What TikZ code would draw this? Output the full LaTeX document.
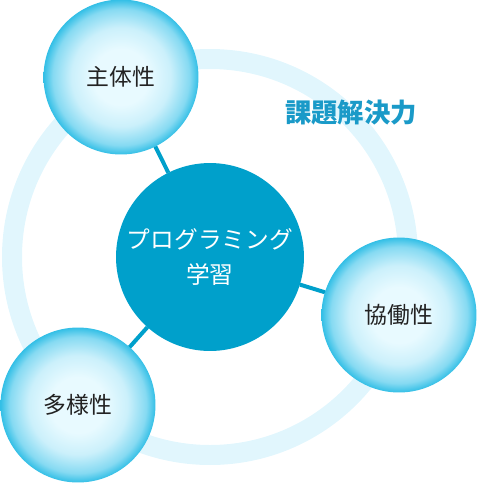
\documentclass[tikz,border=0pt]{standalone}
\usepackage{fontspec}
\usepackage{xcolor}
\usepackage{tikz}
\usetikzlibrary{calc}
\newfontfamily\jpfont{Noto Sans CJK JP}
\definecolor{LabBlue}{HTML}{00A0CB}
\definecolor{LabTitle}{HTML}{1A9AC8}
\definecolor{LabRing}{HTML}{E1F6FD}
\definecolor{LabInk}{HTML}{222222}
\definecolor{BubA}{HTML}{E8FAFF}
\definecolor{BubB}{HTML}{CBF0FB}
\definecolor{BubC}{HTML}{86DAF2}
\definecolor{BubD}{HTML}{33BFE6}
\pgfdeclareradialshading{bubble}{\pgfpoint{0bp}{0bp}}{%
  color(0bp)=(BubA); color(9bp)=(BubA); color(16bp)=(BubB);
  color(22bp)=(BubC); color(25bp)=(BubD); color(50bp)=(BubD)}

\begin{document}
\begin{tikzpicture}[x=0.02cm, y=-0.02cm,
  every node/.style={font=\jpfont, text=LabInk},
  core/.style ={circle, fill=LabBlue, minimum size=3.76cm, inner sep=0pt, outer sep=0pt,
                align=center, text=white, font=\jpfont\fontsize{13.5}{20}\selectfont},
  trait/.style={circle, shading=bubble, minimum size=3.1cm, inner sep=0pt, outer sep=0pt,
                font=\jpfont\fontsize{13}{16}\selectfont},
  ring/.style ={draw=LabRing, line width=0.4cm},
  link/.style ={draw=LabBlue, line width=0.08cm}]
\useasboundingbox (0,0) rectangle (478,485);
\coordinate (o) at (210,257);
\draw[ring] (o) circle (198);
\node[core] (core) at (o) {プログラミング\\学習};
\node[trait] (shutai) at (121,77)  {主体性};
\node[trait] (kyodo)  at (399,315) {協働性};
\node[trait] (tayo)   at (78,405)  {多様性};
\foreach \t in {shutai,kyodo,tayo} {\draw[link] (core) -- (\t);}
\node[text=LabTitle, font=\jpfont\bfseries\fontsize{15}{18}\selectfont] (goal) at (351,113) {課題解決力};
\end{tikzpicture}
\end{document}
